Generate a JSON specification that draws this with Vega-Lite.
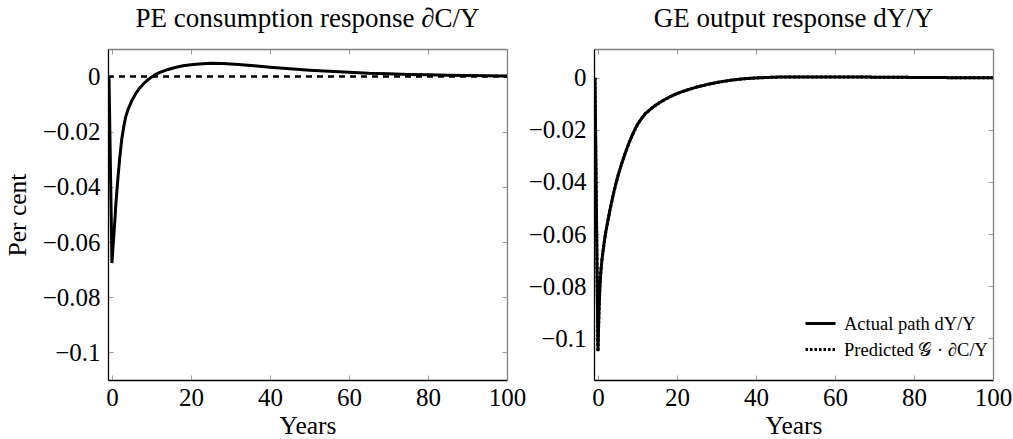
{
  "$schema": "https://vega.github.io/schema/vega-lite/v6.json",
  "padding": {"left": 5, "top": 4, "right": 0, "bottom": 0},
  "bounds": "flush",
  "spacing": 87,
  "background": "white",
  "config": {
    "font": "Liberation Serif",
    "view": {"stroke": null},
    "title": {"fontSize": 27, "fontWeight": "normal", "color": "black", "font": "Liberation Serif", "offset": 16},
    "axis": {
      "grid": false,
      "labelFont": "Liberation Serif",
      "labelFontSize": 25,
      "labelColor": "black",
      "titleFont": "Liberation Serif",
      "titleFontSize": 25.5,
      "titleFontWeight": "normal",
      "titleColor": "black",
      "tickColor": "#9a9a9a",
      "tickSize": -5,
      "tickWidth": 1,
      "domainWidth": 1.3
    },
    "legend": {
      "labelFont": "Liberation Serif",
      "labelFontSize": 18.5,
      "labelColor": "black",
      "labelLimit": 400
    }
  },
  "datasets": {
    "zero": [{"t": -1, "v": 0}, {"t": 100, "v": 0}],
    "pe": [
      {"t": -0.75, "v": 0}, {"t": 0, "v": -0.0676}, {"t": 0.25, "v": -0.062}, {"t": 0.5, "v": -0.057},
      {"t": 0.75, "v": -0.052}, {"t": 1, "v": -0.046}, {"t": 1.5, "v": -0.037}, {"t": 2, "v": -0.029},
      {"t": 2.5, "v": -0.0225}, {"t": 3, "v": -0.018}, {"t": 3.5, "v": -0.0145}, {"t": 4, "v": -0.0122},
      {"t": 5, "v": -0.0088}, {"t": 6, "v": -0.0062}, {"t": 7, "v": -0.0042}, {"t": 8, "v": -0.0026},
      {"t": 9, "v": -0.0013}, {"t": 10, "v": -0.0002}, {"t": 11, "v": 0.0007}, {"t": 12, "v": 0.0014},
      {"t": 14, "v": 0.0025}, {"t": 16, "v": 0.0033}, {"t": 18, "v": 0.0039}, {"t": 20, "v": 0.0043},
      {"t": 22, "v": 0.0046}, {"t": 25, "v": 0.0048}, {"t": 28, "v": 0.0047}, {"t": 32, "v": 0.0044},
      {"t": 36, "v": 0.0039}, {"t": 40, "v": 0.0034}, {"t": 45, "v": 0.0028}, {"t": 50, "v": 0.0023},
      {"t": 55, "v": 0.0019}, {"t": 60, "v": 0.0016}, {"t": 65, "v": 0.0012}, {"t": 70, "v": 0.001},
      {"t": 75, "v": 0.0008}, {"t": 80, "v": 0.0007}, {"t": 85, "v": 0.0005}, {"t": 90, "v": 0.0004},
      {"t": 95, "v": 0.0003}, {"t": 100, "v": 0.0002}
    ],
    "ge": [
      {"series": "Actual path dY/Y", "t": -0.75, "v": 0}, {"series": "Actual path dY/Y", "t": 0, "v": -0.105},
      {"series": "Actual path dY/Y", "t": 0.25, "v": -0.09}, {"series": "Actual path dY/Y", "t": 0.5, "v": -0.08},
      {"series": "Actual path dY/Y", "t": 0.75, "v": -0.074}, {"series": "Actual path dY/Y", "t": 1, "v": -0.07},
      {"series": "Actual path dY/Y", "t": 1.5, "v": -0.064}, {"series": "Actual path dY/Y", "t": 2, "v": -0.059},
      {"series": "Actual path dY/Y", "t": 3, "v": -0.051}, {"series": "Actual path dY/Y", "t": 4, "v": -0.044},
      {"series": "Actual path dY/Y", "t": 5, "v": -0.038}, {"series": "Actual path dY/Y", "t": 6, "v": -0.033},
      {"series": "Actual path dY/Y", "t": 7, "v": -0.0285}, {"series": "Actual path dY/Y", "t": 8, "v": -0.0245},
      {"series": "Actual path dY/Y", "t": 9, "v": -0.021}, {"series": "Actual path dY/Y", "t": 10, "v": -0.018},
      {"series": "Actual path dY/Y", "t": 11, "v": -0.0157}, {"series": "Actual path dY/Y", "t": 12, "v": -0.0138},
      {"series": "Actual path dY/Y", "t": 14, "v": -0.0112}, {"series": "Actual path dY/Y", "t": 16, "v": -0.0092},
      {"series": "Actual path dY/Y", "t": 18, "v": -0.0075}, {"series": "Actual path dY/Y", "t": 20, "v": -0.0061},
      {"series": "Actual path dY/Y", "t": 22, "v": -0.005}, {"series": "Actual path dY/Y", "t": 25, "v": -0.0036},
      {"series": "Actual path dY/Y", "t": 28, "v": -0.0025}, {"series": "Actual path dY/Y", "t": 31, "v": -0.0016},
      {"series": "Actual path dY/Y", "t": 34, "v": -0.0009}, {"series": "Actual path dY/Y", "t": 37, "v": -0.0004},
      {"series": "Actual path dY/Y", "t": 40, "v": -0.0001}, {"series": "Actual path dY/Y", "t": 45, "v": 0.0002},
      {"series": "Actual path dY/Y", "t": 50, "v": 0.0003}, {"series": "Actual path dY/Y", "t": 60, "v": 0.0003},
      {"series": "Actual path dY/Y", "t": 70, "v": 0.0002}, {"series": "Actual path dY/Y", "t": 80, "v": 0.0001},
      {"series": "Actual path dY/Y", "t": 90, "v": 0}, {"series": "Actual path dY/Y", "t": 100, "v": 0},
      {"series": "Predicted 𝒢 · ∂C/Y", "t": -0.75, "v": 0}, {"series": "Predicted 𝒢 · ∂C/Y", "t": 0, "v": -0.105},
      {"series": "Predicted 𝒢 · ∂C/Y", "t": 0.25, "v": -0.09}, {"series": "Predicted 𝒢 · ∂C/Y", "t": 0.5, "v": -0.08},
      {"series": "Predicted 𝒢 · ∂C/Y", "t": 0.75, "v": -0.074}, {"series": "Predicted 𝒢 · ∂C/Y", "t": 1, "v": -0.07},
      {"series": "Predicted 𝒢 · ∂C/Y", "t": 1.5, "v": -0.064}, {"series": "Predicted 𝒢 · ∂C/Y", "t": 2, "v": -0.059},
      {"series": "Predicted 𝒢 · ∂C/Y", "t": 3, "v": -0.051}, {"series": "Predicted 𝒢 · ∂C/Y", "t": 4, "v": -0.044},
      {"series": "Predicted 𝒢 · ∂C/Y", "t": 5, "v": -0.038}, {"series": "Predicted 𝒢 · ∂C/Y", "t": 6, "v": -0.033},
      {"series": "Predicted 𝒢 · ∂C/Y", "t": 7, "v": -0.0285}, {"series": "Predicted 𝒢 · ∂C/Y", "t": 8, "v": -0.0245},
      {"series": "Predicted 𝒢 · ∂C/Y", "t": 9, "v": -0.021}, {"series": "Predicted 𝒢 · ∂C/Y", "t": 10, "v": -0.018},
      {"series": "Predicted 𝒢 · ∂C/Y", "t": 11, "v": -0.0157}, {"series": "Predicted 𝒢 · ∂C/Y", "t": 12, "v": -0.0138},
      {"series": "Predicted 𝒢 · ∂C/Y", "t": 14, "v": -0.0112}, {"series": "Predicted 𝒢 · ∂C/Y", "t": 16, "v": -0.0092},
      {"series": "Predicted 𝒢 · ∂C/Y", "t": 18, "v": -0.0075}, {"series": "Predicted 𝒢 · ∂C/Y", "t": 20, "v": -0.0061},
      {"series": "Predicted 𝒢 · ∂C/Y", "t": 22, "v": -0.005}, {"series": "Predicted 𝒢 · ∂C/Y", "t": 25, "v": -0.0036},
      {"series": "Predicted 𝒢 · ∂C/Y", "t": 28, "v": -0.0025}, {"series": "Predicted 𝒢 · ∂C/Y", "t": 31, "v": -0.0016},
      {"series": "Predicted 𝒢 · ∂C/Y", "t": 34, "v": -0.0009}, {"series": "Predicted 𝒢 · ∂C/Y", "t": 37, "v": -0.0004},
      {"series": "Predicted 𝒢 · ∂C/Y", "t": 40, "v": -0.0001}, {"series": "Predicted 𝒢 · ∂C/Y", "t": 45, "v": 0.0002},
      {"series": "Predicted 𝒢 · ∂C/Y", "t": 50, "v": 0.0003}, {"series": "Predicted 𝒢 · ∂C/Y", "t": 60, "v": 0.0003},
      {"series": "Predicted 𝒢 · ∂C/Y", "t": 70, "v": 0.0002}, {"series": "Predicted 𝒢 · ∂C/Y", "t": 80, "v": 0.0001},
      {"series": "Predicted 𝒢 · ∂C/Y", "t": 90, "v": 0}, {"series": "Predicted 𝒢 · ∂C/Y", "t": 100, "v": 0}
    ]
  },
  "hconcat": [
    {
      "width": 399,
      "height": 331,
      "title": {"text": "PE consumption response ∂C/Y"},
      "layer": [
        {
          "data": {"name": "zero"},
          "mark": {"type": "line", "color": "black", "strokeWidth": 2.5, "strokeDash": [6, 5], "clip": true},
          "encoding": {
            "x": {"field": "t", "type": "quantitative", "scale": {"domain": [-1, 100], "nice": false, "zero": false},
                  "axis": {"orient": "bottom", "values": [0, 20, 40, 60, 80, 100], "title": "Years", "labelFlush": false, "labelPadding": 10, "titlePadding": 3, "domainColor": "black"}},
            "y": {"field": "v", "type": "quantitative", "scale": {"domain": [-0.11, 0.01], "nice": false, "zero": false},
                  "axis": {"orient": "left", "values": [-0.1, -0.08, -0.06, -0.04, -0.02, 0], "format": ".2~f", "title": "Per cent", "labelPadding": 13, "titlePadding": 12, "domainColor": "black"}}
          }
        },
        {
          "data": {"name": "pe"},
          "mark": {"type": "line", "color": "black", "strokeWidth": 3, "clip": true},
          "encoding": {
            "x": {"field": "t", "type": "quantitative",
                  "axis": {"orient": "top", "values": [0, 20, 40, 60, 80, 100], "labels": false, "title": null, "domainColor": "#808080"}},
            "y": {"field": "v", "type": "quantitative",
                  "axis": {"orient": "right", "values": [-0.1, -0.08, -0.06, -0.04, -0.02, 0], "labels": false, "title": null, "domainColor": "#808080"}}
          }
        }
      ],
      "resolve": {"axis": {"x": "independent", "y": "independent"}}
    },
    {
      "width": 399,
      "height": 331,
      "title": {"text": "GE output response dY/Y"},
      "layer": [
        {
          "data": {"name": "ge"},
          "mark": {"type": "line", "color": "black", "strokeWidth": 3, "clip": true},
          "encoding": {
            "x": {"field": "t", "type": "quantitative", "scale": {"domain": [-1, 100], "nice": false, "zero": false},
                  "axis": {"orient": "bottom", "values": [0, 20, 40, 60, 80, 100], "title": "Years", "labelFlush": false, "labelPadding": 10, "titlePadding": 3, "domainColor": "black"}},
            "y": {"field": "v", "type": "quantitative", "scale": {"domain": [-0.116, 0.011], "nice": false, "zero": false},
                  "axis": {"orient": "left", "values": [-0.1, -0.08, -0.06, -0.04, -0.02, 0], "format": ".2~f", "title": null, "labelPadding": 13, "domainColor": "black"}},
            "strokeDash": {"field": "series", "type": "nominal",
                  "scale": {"domain": ["Actual path dY/Y", "Predicted 𝒢 · ∂C/Y"], "range": [[1, 0], [2.5, 2]]},
                  "legend": {"title": null, "orient": "none", "legendX": 696, "legendY": 258, "symbolType": "stroke", "symbolSize": 900, "symbolStrokeWidth": 3, "symbolStrokeColor": "black", "padding": 0, "rowPadding": 0, "labelOffset": 7}}
          }
        },
        {
          "data": {"name": "zero"},
          "mark": {"type": "line", "opacity": 0, "clip": true},
          "encoding": {
            "x": {"field": "t", "type": "quantitative",
                  "axis": {"orient": "top", "values": [0, 20, 40, 60, 80, 100], "labels": false, "title": null, "domainColor": "#808080"}},
            "y": {"field": "v", "type": "quantitative",
                  "axis": {"orient": "right", "values": [-0.1, -0.08, -0.06, -0.04, -0.02, 0], "labels": false, "title": null, "domainColor": "#808080"}}
          }
        }
      ],
      "resolve": {"axis": {"x": "independent", "y": "independent"}}
    }
  ]
}
